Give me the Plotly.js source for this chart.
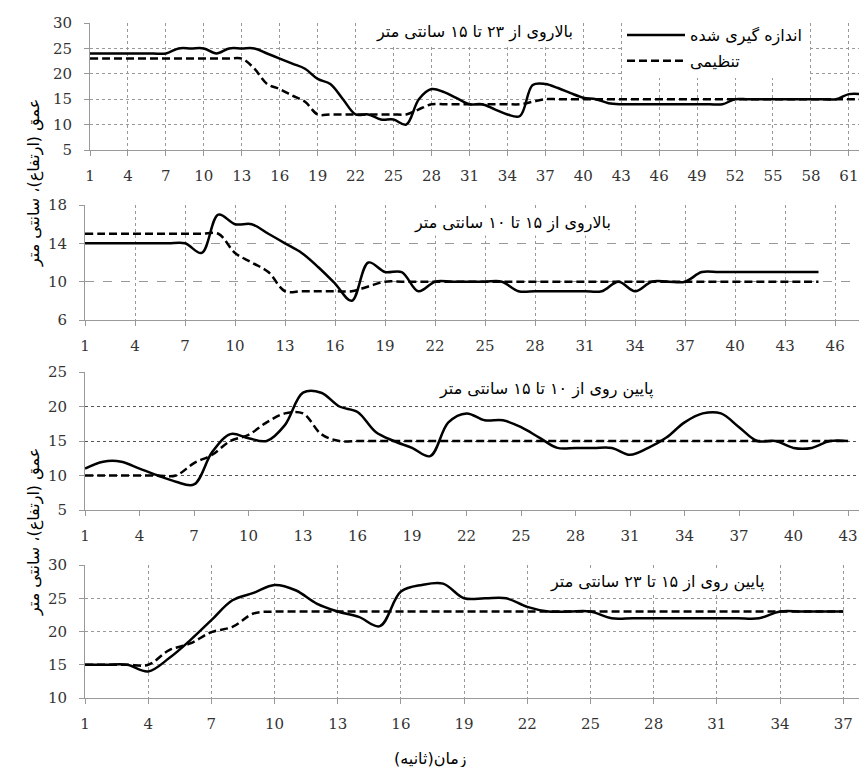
<!DOCTYPE html>
<html>
<head>
<meta charset="utf-8">
<script src="https://cdn.plot.ly/plotly-3.0.1.min.js"></script>
<style>html,body{margin:0;padding:0;background:#fff;}#chart{width:859px;height:767px;}</style>
</head>
<body>
<div id="chart"></div>
<script>
// ---- Data ----
var seconds1 = [1,2,3,4,5,6,7,8,9,10,11,12,13,14,15,16,17,18,19,20,21,22,23,24,25,26,27,28,29,30,31,32,33,34,35,36,37,38,39,40,41,42,43,44,45,46,47,48,49,50,51,52,53,54,55,56,57,58,59,60,61,62];
var measured1 = [24,24,24,24,24,24,24,25,25,25,24,25,25,25,24,23,22,21,19,18,15,12,12,11,11,10,15,17,16.4,15.2,14,14,13,12,11.7,17.8,18,17.2,16.2,15.3,15,14.2,14,14,14,14,14,14,14,14,14,15,15,15,15,15,15,15,15,15,16,16];
var target1 = [23,23,23,23,23,23,23,23,23,23,23,23,23,21,18,17,15.7,14.5,12,12,12,12,12,12,12,12,13,14,14,14,14,14,14,14,14,14.5,15,15,15,15,15,15,15,15,15,15,15,15,15,15,15,15,15,15,15,15,15,15,15,15,15,15];

var seconds2 = [1,2,3,4,5,6,7,8,9,10,11,12,13,14,15,16,17,18,19,20,21,22,23,24,25,26,27,28,29,30,31,32,33,34,35,36,37,38,39,40,41,42,43,44,45];
var measured2 = [14,14,14,14,14,14,14,13,17,16,16,15,14,13,11.5,9.8,8,12,11,11,9,10,10,10,10,10,9,9,9,9,9,9,10,9,10,10,10,11,11,11,11,11,11,11,11];
var target2 = [15,15,15,15,15,15,15,15,15,13,12,11,9,9,9,9,9,9.5,10,10,10,10,10,10,10,10,10,10,10,10,10,10,10,10,10,10,10,10,10,10,10,10,10,10,10];

var seconds3 = [1,2,3,4,5,6,7,8,9,10,11,12,13,14,15,16,17,18,19,20,21,22,23,24,25,26,27,28,29,30,31,32,33,34,35,36,37,38,39,40,41,42,43];
var measured3 = [11,12,12,11,10,9.1,8.7,13.4,16,15.4,15,17.3,22,22,20,19.2,16.3,15,14,12.8,17.7,19,18,18,17,15.5,14,14,14,14,13,14,15.5,17.7,19,19,17,15,15,14,14,15,15];
var target3 = [10,10,10,10,10,10,11.8,13,15,15.9,17.7,19,19,16,15,15,15,15,15,15,15,15,15,15,15,15,15,15,15,15,15,15,15,15,15,15,15,15,15,15,15,15,15];

var seconds4 = [1,2,3,4,5,6,7,8,9,10,11,12,13,14,15,16,17,18,19,20,21,22,23,24,25,26,27,28,29,30,31,32,33,34,35,36,37];
var measured4 = [15,15,15,14,16,18.7,21.7,24.7,25.8,27,26.2,24.2,23,22.2,20.8,26,27,27.2,25,25,25,23.7,23,23,23,22,22,22,22,22,22,22,22,23,23,23,23];
var target4 = [15,15,15,15,17.2,18.2,19.9,20.7,22.7,23,23,23,23,23,23,23,23,23,23,23,23,23,23,23,23,23,23,23,23,23,23,23,23,23,23,23,23];

var nameMeasured = 'اندازه گیری شده';
var nameTarget = 'تنظیمی';
var panelTitles = ['بالاروی از ۲۳ تا ۱۵ سانتی متر','بالاروی از ۱۵ تا ۱۰ سانتی متر','پایین روی از ۱۰ تا ۱۵ سانتی متر','پایین روی از ۱۵ تا ۲۳ سانتی متر'];
var yTitle = 'عمق (ارتفاع)، سانتی متر';
var xTitle = 'زمان(ثانیه)';

// ---- Chart ----
var W = 859, H = 767;
var solidLine = {color:'#000', width:2.5, shape:'spline', smoothing:1};
var dashLine = {color:'#000', width:2.5, dash:'8px,4px', shape:'spline', smoothing:1};

var sets = [[seconds1,measured1,target1],[seconds2,measured2,target2],[seconds3,measured3,target3],[seconds4,measured4,target4]];
var traces = [];
sets.forEach(function(s,i){
  var xa = 'x'+(i+1), ya = 'y'+(i+1);
  traces.push({x:s[0], y:s[1], xaxis:xa, yaxis:ya, mode:'lines', line:solidLine, name:nameMeasured, showlegend:i===0, legendgroup:'m', hoverinfo:'x+y'});
  traces.push({x:s[0], y:s[2], xaxis:xa, yaxis:ya, mode:'lines', line:dashLine, name:nameTarget, showlegend:i===0, legendgroup:'t', hoverinfo:'x+y'});
});

var serif = 'DejaVu Serif';
function tf(){ return {family:serif, size:15, color:'#333'}; }
function xax(left, rightRange, anchor, gridOn){
  return {domain:[left/W,1], range:[1,rightRange], anchor:anchor, tickmode:'linear', tick0:1, dtick:3,
    showgrid:gridOn, gridcolor:'#999', griddash:'dot', gridwidth:1,
    showline:true, linecolor:'#999', linewidth:1, ticks:'outside', ticklen:5, tickcolor:'#999',
    tickfont:tf(), ticklabelstandoff:7, zeroline:false, fixedrange:true};
}
function yax(top, bottom, range, dtick, anchor, gdash, gcolor){
  return {domain:[1-bottom/H, 1-top/H], range:range, anchor:anchor, tickmode:'linear', tick0:range[0], dtick:dtick,
    showgrid:true, gridcolor:gcolor, griddash:gdash, gridwidth:1,
    showline:true, linecolor:'#999', linewidth:1, ticks:'outside', ticklen:5, tickcolor:'#999',
    tickfont:tf(), ticklabelstandoff:9, zeroline:false, fixedrange:true};
}

var arab = 'DejaVu Sans, sans-serif';
var annFont = {family:arab, size:16, color:'#000'};
function ann(text, px, py, extra){
  var a = {text:text, xref:'paper', yref:'paper', x:px/W, y:1-py/H, xanchor:'center', yanchor:'middle', showarrow:false, font:annFont};
  for (var k in extra) a[k] = extra[k];
  return a;
}
var layout = {
  width:W, height:H, margin:{l:0,r:0,t:0,b:0}, paper_bgcolor:'#fff', plot_bgcolor:'#fff',
  font:{family:serif, color:'#333'},
  showlegend:true,
  legend:{x:622/W, y:1-18/H, xanchor:'left', yanchor:'top', bgcolor:'#fff', borderwidth:0,
    font:{family:arab, size:16, color:'#000'}, itemwidth:58, tracegroupgap:2},
  xaxis1: xax(90, 61.8, 'y1', true),
  yaxis1: yax(23, 150, [5,30], 5, 'x1', 'dot', '#999'),
  xaxis2: xax(85, 47.43, 'y2', true),
  yaxis2: yax(205, 320, [6,18], 4, 'x2', 'dash', '#999'),
  xaxis3: xax(85, 43.6, 'y3', false),
  yaxis3: yax(372, 510, [5,25], 5, 'x3', 'dot', '#555'),
  xaxis4: xax(85, 37.75, 'y4', true),
  yaxis4: yax(565, 698, [10,30], 5, 'x4', 'dot', '#999'),
  annotations:[
    ann(panelTitles[0], 475, 32, {bgcolor:'#fff', borderpad:2}),
    ann(panelTitles[1], 512, 223, {bgcolor:'#fff', borderpad:2}),
    ann(panelTitles[2], 546, 389, {bgcolor:'#fff', borderpad:2}),
    ann(panelTitles[3], 657, 582, {bgcolor:'#fff', borderpad:2}),
    ann(yTitle, 34, 183, {textangle:-90, font:{family:arab, size:16, color:'#000'}}),
    ann(yTitle, 34, 532, {textangle:-90, font:{family:arab, size:16, color:'#000'}}),
    ann(xTitle, 430, 759, {font:{family:arab, size:16, color:'#000'}})
  ]
};

Plotly.newPlot('chart', traces, layout, {displayModeBar:false, staticPlot:true});
</script>
</body>
</html>
